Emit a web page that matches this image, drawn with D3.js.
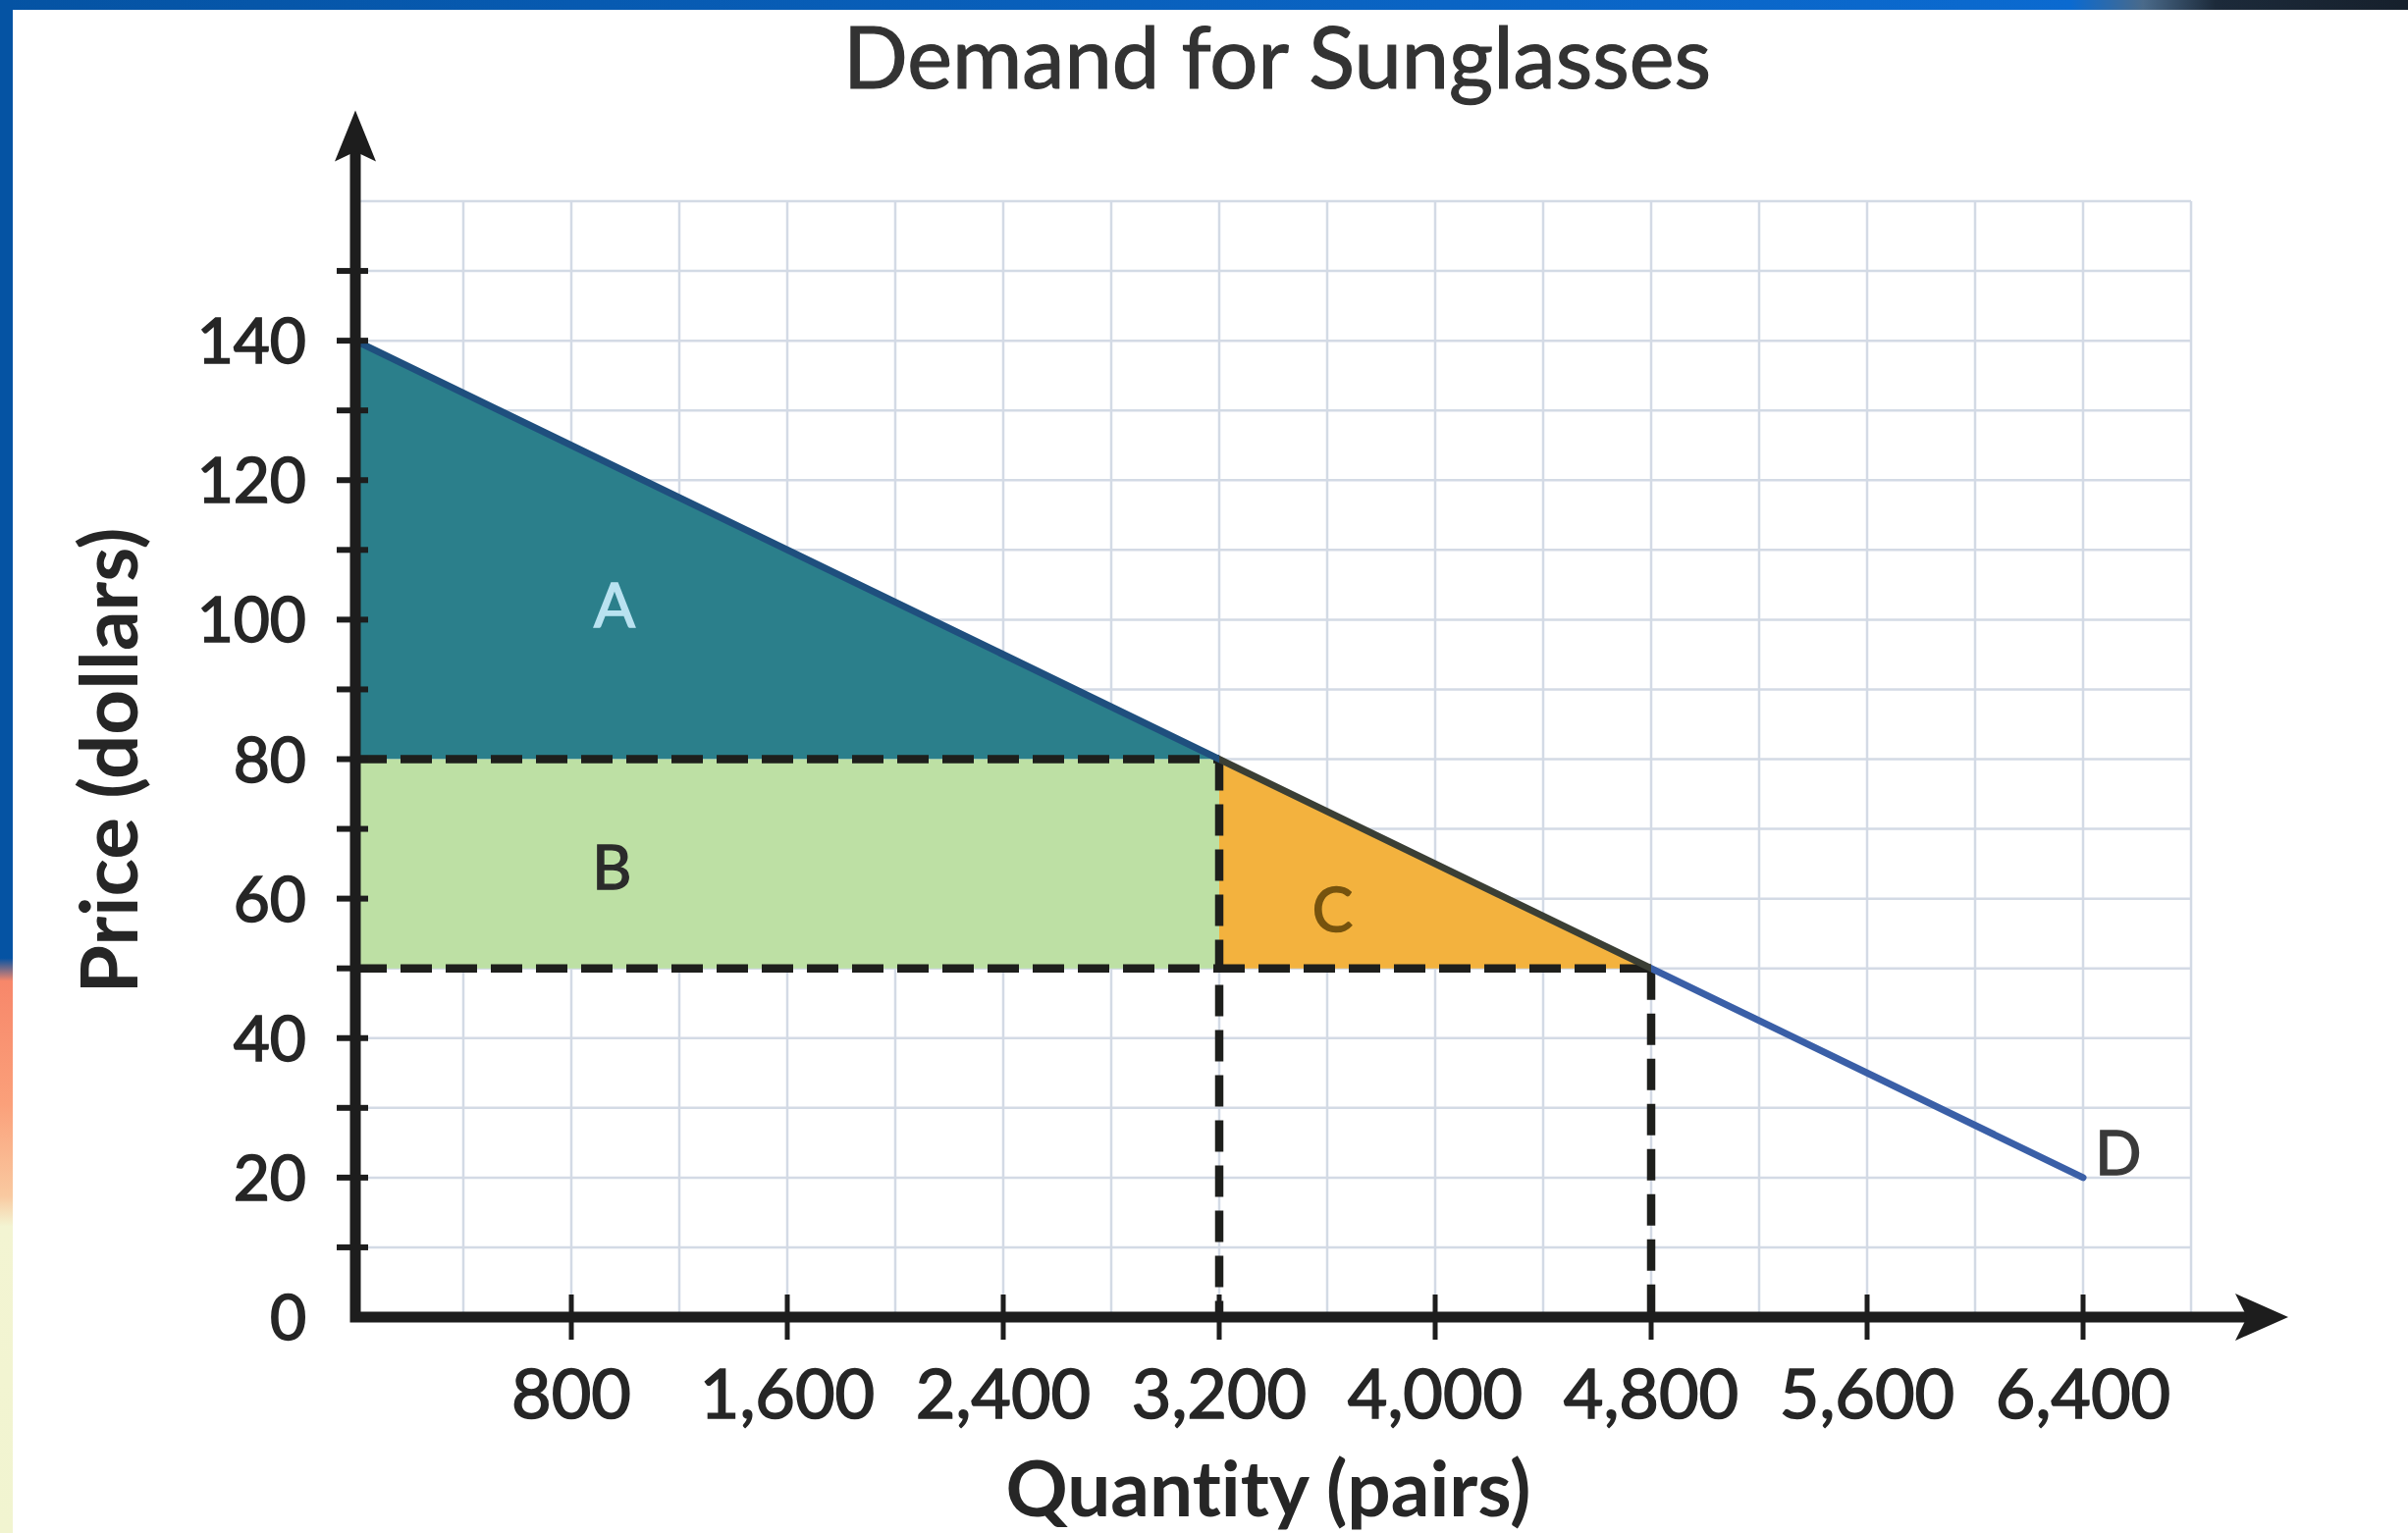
<!DOCTYPE html>
<html>
<head>
<meta charset="utf-8">
<script src="https://cdn.jsdelivr.net/npm/d3@7"></script>
<style>
  html, body { margin: 0; padding: 0; background: #ffffff; }
  svg { display: block; }
  text { font-variant-ligatures: none; font-feature-settings: "liga" 0; }
</style>
</head>
<body>
<svg id="chart" width="2453" height="1562"></svg>
<script>
// ---- chart content ----
const chartTitle = "Demand for Sunglasses";
const xTitle = "Quantity (pairs)";
const yTitle = "Price (dollars)";

// labelled ticks
const xTickValues = [800, 1600, 2400, 3200, 4000, 4800, 5600, 6400];
const yTickValues = [0, 20, 40, 60, 80, 100, 120, 140];

// demand curve end points (quantity, price)
const demandQ = [0, 6400];
const demandP = [140, 20];

// price / quantity before and after the price cut
const priceHigh = 80, qtyHigh = 3200;
const priceLow = 50, qtyLow = 4800;

// shaded region names
const regionNames = ["A", "B", "C"];
const curveName = "D";

// ---- layout ----
const W = 2453, H = 1562;
const svg = d3.select("#chart");
const FONT = "Lato, 'Liberation Sans', Arial, sans-serif";

const x = d3.scaleLinear().domain([0, 6800]).range([362, 2232]);
const y = d3.scaleLinear().domain([0, 160]).range([1342, 205]);

const qAxisEnd = 7160;   // quantity where the x arrow ends
const pAxisEnd = 173;    // price where the y arrow ends

// ---- frame decoration ----
const defs = svg.append("defs");
const sideGrad = defs.append("linearGradient").attr("id", "sideGrad")
  .attr("x1", 0).attr("y1", 0).attr("x2", 0).attr("y2", 1);
[["0%", "#0553a3"], ["62.5%", "#0553a3"], ["64%", "#f7876a"], ["72%", "#fba07a"],
 ["78%", "#f9c9a0"], ["80%", "#f3f4d2"], ["100%", "#f1f4d0"]]
  .forEach(([o, c]) => sideGrad.append("stop").attr("offset", o).attr("stop-color", c));
const topGrad = defs.append("linearGradient").attr("id", "topGrad")
  .attr("x1", 0).attr("y1", 0).attr("x2", 1).attr("y2", 0);
[["0%", "#0553a3"], ["60%", "#0a64c4"], ["86%", "#0b6ad0"], ["89%", "#4a6a8a"], ["92%", "#1c2a3a"], ["100%", "#16202c"]]
  .forEach(([o, c]) => topGrad.append("stop").attr("offset", o).attr("stop-color", c));

svg.append("rect").attr("x", 0).attr("y", 0).attr("width", W).attr("height", 10).attr("fill", "url(#topGrad)");
svg.append("rect").attr("x", 0).attr("y", 0).attr("width", 13).attr("height", H).attr("fill", "url(#sideGrad)");

// ---- grid ----
const grid = svg.append("g").attr("stroke", "#d3dae5").attr("stroke-width", 2.5);
grid.selectAll("line.v").data(d3.range(400, 6801, 400)).join("line")
  .attr("x1", d => x(d)).attr("x2", d => x(d))
  .attr("y1", y(0)).attr("y2", y(160));
grid.selectAll("line.h").data(d3.range(10, 161, 10)).join("line")
  .attr("x1", x(0)).attr("x2", x(6800))
  .attr("y1", d => y(d)).attr("y2", d => y(d));

// ---- shaded regions ----
const poly = pts => "M" + pts.map(p => [x(p[0]), y(p[1])].join(",")).join("L") + "Z";
const regions = [
  { name: regionNames[0], fill: "#2b7f8b",
    pts: [[demandQ[0], demandP[0]], [qtyHigh, priceHigh], [0, priceHigh]] },
  { name: regionNames[1], fill: "#bde0a4",
    pts: [[0, priceHigh], [qtyHigh, priceHigh], [qtyHigh, priceLow], [0, priceLow]] },
  { name: regionNames[2], fill: "#f3b23e",
    pts: [[qtyHigh, priceHigh], [qtyLow, priceLow], [qtyHigh, priceLow]] }
];
svg.append("g").selectAll("path").data(regions).join("path")
  .attr("d", d => poly(d.pts)).attr("fill", d => d.fill);

// ---- dashed guides ----
const guides = [
  [[0, priceHigh], [qtyHigh, priceHigh]],
  [[qtyHigh, priceHigh], [qtyHigh, 0]],
  [[0, priceLow], [qtyLow, priceLow]],
  [[qtyLow, priceLow], [qtyLow, 0]]
];
svg.append("g").selectAll("line").data(guides).join("line")
  .attr("x1", d => x(d[0][0])).attr("y1", d => y(d[0][1]))
  .attr("x2", d => x(d[1][0])).attr("y2", d => y(d[1][1]))
  .attr("stroke", "#1e1f1c").attr("stroke-width", 8.5)
  .attr("stroke-dasharray", "32,14");

// ---- demand curve ----
const demandGrad = defs.append("linearGradient").attr("id", "demandGrad")
  .attr("gradientUnits", "userSpaceOnUse")
  .attr("x1", x(demandQ[0])).attr("y1", 0).attr("x2", x(demandQ[1])).attr("y2", 0);
const fHigh = qtyHigh / demandQ[1], fLow = qtyLow / demandQ[1];
[[0, "#1f4f7e"], [fHigh, "#1f4f7e"], [fHigh, "#3b3f35"], [fLow, "#3b3f35"], [fLow, "#3a5fa7"], [1, "#3a5fa7"]]
  .forEach(([o, c]) => demandGrad.append("stop").attr("offset", o).attr("stop-color", c));

const demand = demandQ.map((q, i) => ({ q, p: demandP[i] }));
svg.append("path").datum(demand)
  .attr("d", d3.line().x(d => x(d.q)).y(d => y(d.p)))
  .attr("fill", "none").attr("stroke", "url(#demandGrad)").attr("stroke-width", 7)
  .attr("stroke-linecap", "round");

// ---- axes ----
const axisColor = "#1d1d1d";
const axes = svg.append("g");
// minor ticks on the price axis
axes.selectAll("line.yt").data(d3.range(10, 151, 10)).join("line")
  .attr("x1", x(0) - 19).attr("x2", x(0) + 13)
  .attr("y1", d => y(d)).attr("y2", d => y(d))
  .attr("stroke", axisColor).attr("stroke-width", 6);
// ticks on the quantity axis
axes.selectAll("line.xt").data(xTickValues).join("line")
  .attr("x1", d => x(d)).attr("x2", d => x(d))
  .attr("y1", y(0) - 23).attr("y2", y(0) + 23)
  .attr("stroke", axisColor).attr("stroke-width", 5);
// axis lines
axes.append("path")
  .attr("d", `M${x(0)},${y(pAxisEnd) + 30}V${y(0)}H${x(qAxisEnd) - 30}`)
  .attr("fill", "none").attr("stroke", axisColor).attr("stroke-width", 11)
  .attr("stroke-linejoin", "miter");
// arrow heads
const xa = x(qAxisEnd), ya = y(pAxisEnd);
axes.append("path")
  .attr("d", `M${xa},${y(0)}L${xa - 54},${y(0) - 24}L${xa - 42},${y(0)}L${xa - 54},${y(0) + 24}Z`)
  .attr("fill", axisColor);
axes.append("path")
  .attr("d", `M${x(0)},${ya}L${x(0) - 21},${ya + 52}L${x(0)},${ya + 42}L${x(0) + 21},${ya + 52}Z`)
  .attr("fill", axisColor);

// ---- tick labels ----
const fmt = d3.format(",");
svg.append("g").selectAll("text").data(yTickValues).join("text")
  .attr("x", 312).attr("y", d => y(d)).attr("dy", "0.36em")
  .attr("text-anchor", "end")
  .attr("font-family", FONT).attr("font-size", 64).attr("fill", "#262626")
  .attr("stroke", "#262626").attr("stroke-width", 1.6)
  .text(d => fmt(d));
svg.append("g").selectAll("text").data(xTickValues).join("text")
  .attr("x", d => x(d)).attr("y", 1445)
  .attr("text-anchor", "middle")
  .attr("font-family", FONT).attr("font-size", 70).attr("fill", "#262626")
  .attr("stroke", "#262626").attr("stroke-width", 1.6)
  .text(d => fmt(d));

// ---- titles ----
function fitWidth(sel, target) {
  const w = sel.node().getComputedTextLength();
  const fs = parseFloat(sel.attr("font-size"));
  sel.attr("font-size", fs * target / w);
}
const t = svg.append("text").attr("x", 1301).attr("y", 90)
  .attr("text-anchor", "middle").attr("font-family", FONT)
  .attr("font-size", 80).attr("fill", "#333333")
  .attr("stroke", "#333333").attr("stroke-width", 1.2).text(chartTitle);
fitWidth(t, 884);

const xt = svg.append("text").attr("x", 1292).attr("y", 1545)
  .attr("text-anchor", "middle").attr("font-family", FONT).attr("font-weight", 700)
  .attr("font-size", 70).attr("fill", "#262626").text(xTitle);
fitWidth(xt, 535);

const yt = svg.append("text").attr("transform", "translate(140,775) rotate(-90)")
  .attr("text-anchor", "middle").attr("font-family", FONT).attr("font-weight", 700)
  .attr("font-size", 70).attr("fill", "#262626").text(yTitle);
fitWidth(yt, 475);

// ---- region and curve labels ----
const labelSpecs = [
  { text: regionNames[0], q: 960, p: 102, color: "#b9e2f0" },
  { text: regionNames[1], q: 950, p: 64.5, color: "#2b2b2b" },
  { text: regionNames[2], q: 3620, p: 58.5, color: "#76530e" },
  { text: curveName, q: 6530, p: 23.5, color: "#3a3a3a" }
];
svg.append("g").selectAll("text").data(labelSpecs).join("text")
  .attr("x", d => x(d.q)).attr("y", d => y(d.p)).attr("dy", "0.36em")
  .attr("text-anchor", "middle")
  .attr("font-family", FONT).attr("font-size", 62).attr("fill", d => d.color)
  .attr("stroke", d => d.color).attr("stroke-width", 1.5)
  .text(d => d.text);
</script>
</body>
</html>
